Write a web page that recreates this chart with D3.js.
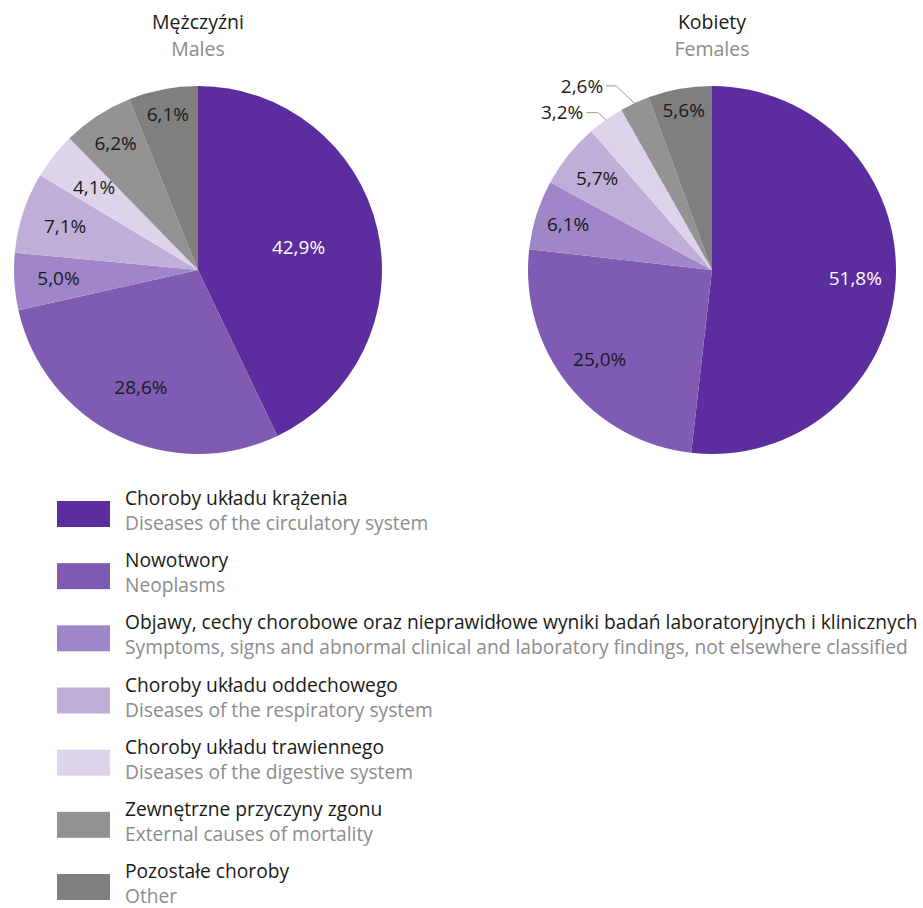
<!DOCTYPE html>
<html>
<head>
<meta charset="utf-8">
<script src="https://cdn.jsdelivr.net/npm/d3@7"></script>
<style>
  body { margin: 0; background: #fff; }
  text { font-family: "Open Sans", "Noto Sans", sans-serif; }
</style>
</head>
<body>
<div id="viz"></div>
<script>
// categories (Polish / English) and shares in percent
var namesPl = [
    "Choroby układu krążenia",
    "Nowotwory",
    "Objawy, cechy chorobowe oraz nieprawidłowe wyniki badań laboratoryjnych i klinicznych",
    "Choroby układu oddechowego",
    "Choroby układu trawiennego",
    "Zewnętrzne przyczyny zgonu",
    "Pozostałe choroby"
];
var namesEn = [
    "Diseases of the circulatory system",
    "Neoplasms",
    "Symptoms, signs and abnormal clinical and laboratory findings, not elsewhere classified",
    "Diseases of the respiratory system",
    "Diseases of the digestive system",
    "External causes of mortality",
    "Other"
];
var males = [42.9, 28.6, 5.0, 7.1, 4.1, 6.2, 6.1];
var females = [51.8, 25.0, 6.1, 5.7, 3.2, 2.6, 5.6];
var colors = ["#5c2d9e", "#7f5bb4", "#9f86c8", "#c0aed9", "#ddd4ec", "#939393", "#7f7f7f"];

var width = 923, height = 908,
    radius = 184,
    pieY = 270;

var svg = d3.select('#viz').append('svg')
    .attr('width', width)
    .attr('height', height);

var pie = d3.pie().sort(null).value(function(d) { return d; });
var arc = d3.arc().innerRadius(0).outerRadius(radius);

function fmt(v) { return v.toFixed(1).replace('.', ',') + '%'; }

// label distance from centre, as fraction of the radius (set by hand per chart)
// outside labels: [elbow dx, elbow dy, horizontal run] from the rim point
var charts = [
    { titlePl: "Mężczyźni", titleEn: "Males", values: males, cx: 198,
      labelR: [0.56, 0.71, 0.76, 0.76, 0.72, 0.82, 0.86], outside: {} },
    { titlePl: "Kobiety", titleEn: "Females", values: females, cx: 712,
      labelR: [0.78, 0.78, 0.82, 0.8, 0.8, 0.8, 0.88],
      outside: { 4: [-8, -8, 12], 5: [-19, -18, 10] } }
];

charts.forEach(function(c) {
    var g = svg.append('g').attr('transform', 'translate(' + c.cx + ',' + pieY + ')');

    svg.append('text').attr('x', c.cx).attr('y', 29)
        .attr('text-anchor', 'middle').style('font-size', '19.5px').attr('fill', '#1a1a1a')
        .text(c.titlePl);
    svg.append('text').attr('x', c.cx).attr('y', 56)
        .attr('text-anchor', 'middle').style('font-size', '19.5px').attr('fill', '#8c8c8c')
        .text(c.titleEn);

    var arcs = pie(c.values);

    g.selectAll('path').data(arcs).enter().append('path')
        .attr('d', arc)
        .attr('fill', function(d, i) { return colors[i]; });

    arcs.forEach(function(d, i) {
        var a = (d.startAngle + d.endAngle) / 2;
        var lead = c.outside[i];
        if (lead) {
            // leader line out to a label on the left
            var ex = (radius - 1) * Math.sin(a), ey = -(radius - 1) * Math.cos(a);
            var kx = ex + lead[0], ty = ey + lead[1];
            var tx = kx - lead[2];
            g.append('polyline')
                .attr('points', [[ex, ey], [kx, ty], [tx, ty]].map(function(p) { return p.join(','); }).join(' '))
                .attr('fill', 'none').attr('stroke', '#999').attr('stroke-width', 1);
            g.append('text').attr('x', tx - 3).attr('y', ty).attr('dy', '0.35em')
                .attr('text-anchor', 'end').style('font-size', '19px').attr('fill', '#1a1a1a')
                .text(fmt(d.data));
            return;
        }
        var r = radius * c.labelR[i];
        g.append('text')
            .attr('x', r * Math.sin(a))
            .attr('y', -r * Math.cos(a))
            .attr('dy', '0.35em')
            .attr('text-anchor', 'middle')
            .style('font-size', '19px')
            .attr('fill', i == 0 ? '#fff' : '#1a1a1a')
            .text(fmt(d.data));
    });
});

// legend
var legend = svg.append('g');
var rowY = d3.scaleLinear().domain([0, 6]).range([498, 871]);

namesPl.forEach(function(n, i) {
    var y = rowY(i);
    legend.append('rect')
        .attr('x', 57).attr('y', y + 3).attr('width', 53).attr('height', 26)
        .attr('fill', colors[i]);
    legend.append('text').attr('x', 125).attr('y', y + 7)
        .style('font-size', '19.2px').attr('fill', '#1a1a1a')
        .text(n);
    legend.append('text').attr('x', 125).attr('y', y + 32)
        .style('font-size', '19.2px').attr('fill', '#8c8c8c')
        .text(namesEn[i]);
});
</script>
</body>
</html>
